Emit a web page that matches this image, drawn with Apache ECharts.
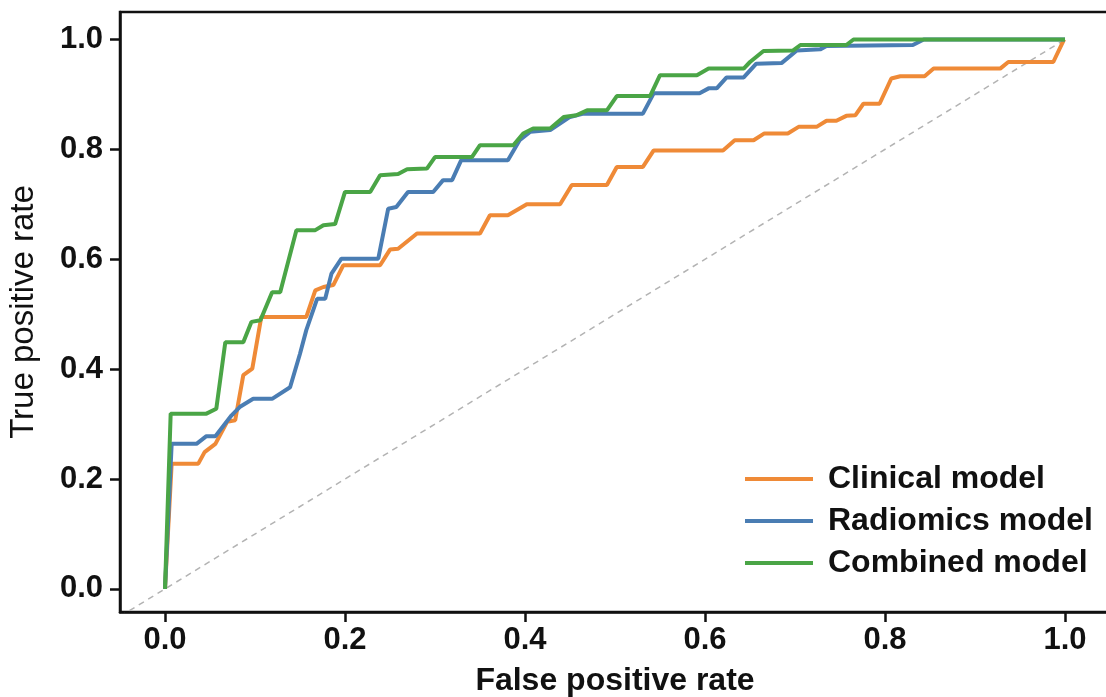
<!DOCTYPE html>
<html>
<head>
<meta charset="utf-8">
<script src="https://cdn.jsdelivr.net/npm/echarts@6/dist/echarts.min.js"></script>
<style>
  html, body { margin: 0; padding: 0; background: #fff; }
  #roc { width: 1106px; height: 697px; }
</style>
</head>
<body>
<div id="roc"></div>
<script>
// ROC points (false positive rate / true positive rate)
const clinicalFpr = [0, 0.0074, 0.037, 0.044, 0.056, 0.069, 0.078, 0.087, 0.097, 0.107, 0.157, 0.167, 0.176, 0.187, 0.198, 0.239, 0.25, 0.259, 0.28, 0.35, 0.361, 0.381, 0.402, 0.439, 0.452, 0.491, 0.502, 0.531, 0.543, 0.62, 0.633, 0.654, 0.666, 0.692, 0.704, 0.724, 0.735, 0.746, 0.757, 0.767, 0.776, 0.794, 0.807, 0.817, 0.844, 0.854, 0.928, 0.937, 0.987, 0.999]
const clinicalTpr = [0, 0.228, 0.228, 0.249, 0.264, 0.304, 0.307, 0.389, 0.401, 0.495, 0.495, 0.5435, 0.5495, 0.553, 0.589, 0.589, 0.6176, 0.619, 0.647, 0.647, 0.68, 0.68, 0.7, 0.7, 0.735, 0.735, 0.768, 0.768, 0.798, 0.798, 0.8165, 0.8165, 0.829, 0.829, 0.841, 0.841, 0.852, 0.852, 0.861, 0.862, 0.883, 0.883, 0.929, 0.933, 0.933, 0.947, 0.947, 0.959, 0.959, 1.0]

const radiomicsFpr = [0, 0.0074, 0.035, 0.046, 0.056, 0.074, 0.083, 0.098, 0.119, 0.139, 0.15, 0.157, 0.169, 0.178, 0.185, 0.196, 0.237, 0.248, 0.257, 0.27, 0.298, 0.309, 0.319, 0.329, 0.381, 0.394, 0.406, 0.428, 0.45, 0.465, 0.531, 0.543, 0.594, 0.604, 0.613, 0.624, 0.643, 0.657, 0.685, 0.702, 0.728, 0.735, 0.831, 0.843, 1.0]
const radiomicsTpr = [0, 0.264, 0.264, 0.278, 0.278, 0.316, 0.331, 0.346, 0.346, 0.367, 0.428, 0.471, 0.528, 0.528, 0.574, 0.601, 0.601, 0.692, 0.695, 0.7225, 0.7225, 0.744, 0.744, 0.78, 0.78, 0.8165, 0.832, 0.835, 0.859, 0.865, 0.865, 0.902, 0.902, 0.911, 0.911, 0.931, 0.931, 0.956, 0.957, 0.98, 0.982, 0.988, 0.99, 1.0, 1.0]

const combinedFpr = [0, 0.0063, 0.046, 0.057, 0.067, 0.087, 0.096, 0.106, 0.119, 0.128, 0.146, 0.167, 0.176, 0.189, 0.2, 0.228, 0.239, 0.259, 0.269, 0.291, 0.3, 0.341, 0.35, 0.387, 0.398, 0.409, 0.428, 0.443, 0.457, 0.469, 0.491, 0.502, 0.539, 0.55, 0.591, 0.604, 0.643, 0.65, 0.665, 0.698, 0.706, 0.757, 0.765, 1.0]
const combinedTpr = [0, 0.319, 0.319, 0.328, 0.449, 0.449, 0.486, 0.489, 0.54, 0.54, 0.653, 0.653, 0.662, 0.664, 0.7225, 0.7225, 0.753, 0.755, 0.764, 0.765, 0.786, 0.786, 0.8075, 0.8075, 0.829, 0.838, 0.838, 0.859, 0.862, 0.871, 0.871, 0.897, 0.897, 0.935, 0.935, 0.947, 0.947, 0.959, 0.979, 0.98, 0.99, 0.99, 1.0, 1.0]

const modelNames = ['Clinical model', 'Radiomics model', 'Combined model']
const modelColors = ['#ef8a37', '#4a7db3', '#4aa546']
const tickValues = [0, 0.2, 0.4, 0.6, 0.8, 1.0]
const chanceLine = [[-0.05, -0.05], [1, 1]]

const zip = (xs, ys) => xs.map((x, i) => [x, ys[i]])
const curves = [
  zip(clinicalFpr, clinicalTpr),
  zip(radiomicsFpr, radiomicsTpr),
  zip(combinedFpr, combinedTpr)
]

const fontFamily = '"Liberation Sans", Arial, Helvetica, sans-serif'

function axisStyle(name) {
  return {
    type: 'value',
    name: name,
    nameLocation: 'middle',
    axisLine: { show: true, onZero: false, lineStyle: { color: '#111', width: 2.5 }},
    axisTick: { show: true, customValues: tickValues, length: 10, lineStyle: { color: '#111', width: 2.5 }},
    axisLabel: {
      customValues: tickValues,
      formatter: v => v.toFixed(1),
      color: '#111',
      fontSize: 31,
      fontWeight: 'bold',
      fontFamily: fontFamily
    },
    splitLine: { show: false }
  }
}

const xAxis = axisStyle('False positive rate')
xAxis.min = -0.05
xAxis.max = 1.05
xAxis.nameGap = 53
xAxis.nameTextStyle = { color: '#111', fontSize: 32, fontWeight: 'bold', fontFamily: fontFamily }
xAxis.axisLabel.margin = 13

const yAxis = axisStyle('True positive rate')
yAxis.min = -0.042
yAxis.max = 1.05
yAxis.nameGap = 80
yAxis.nameTextStyle = { color: '#111', fontSize: 33, fontWeight: 'normal', fontFamily: fontFamily }
yAxis.axisLabel.margin = 17

const chart = echarts.init(document.getElementById('roc'))
chart.setOption({
  backgroundColor: '#fff',
  animation: false,
  grid: {
    left: 120, right: -4, top: 12, bottom: 85,
    show: true, borderColor: '#111', borderWidth: 2.5,
    outerBoundsMode: 'none'
  },
  legend: {
    data: modelNames,
    orient: 'vertical',
    left: 740,
    top: 458,
    icon: 'rect',
    itemWidth: 68,
    itemHeight: 4,
    itemGap: 10,
    textStyle: {
      color: '#111',
      fontSize: 32,
      fontWeight: 'bold',
      fontFamily: fontFamily,
      lineHeight: 32,
      padding: [0, 0, 0, 10]
    }
  },
  xAxis: xAxis,
  yAxis: yAxis,
  series: [
    {
      name: 'chance',
      type: 'line',
      data: chanceLine,
      symbol: 'none',
      silent: true,
      lineStyle: { color: '#b3b3b3', width: 1.5, type: [6, 5] }
    }
  ].concat(curves.map((pts, i) => ({
    name: modelNames[i],
    type: 'line',
    data: pts,
    symbol: 'none',
    color: modelColors[i],
    lineStyle: { width: 4, color: modelColors[i] }
  })))
})
window.addEventListener('resize', () => chart.resize())
</script>
</body>
</html>
